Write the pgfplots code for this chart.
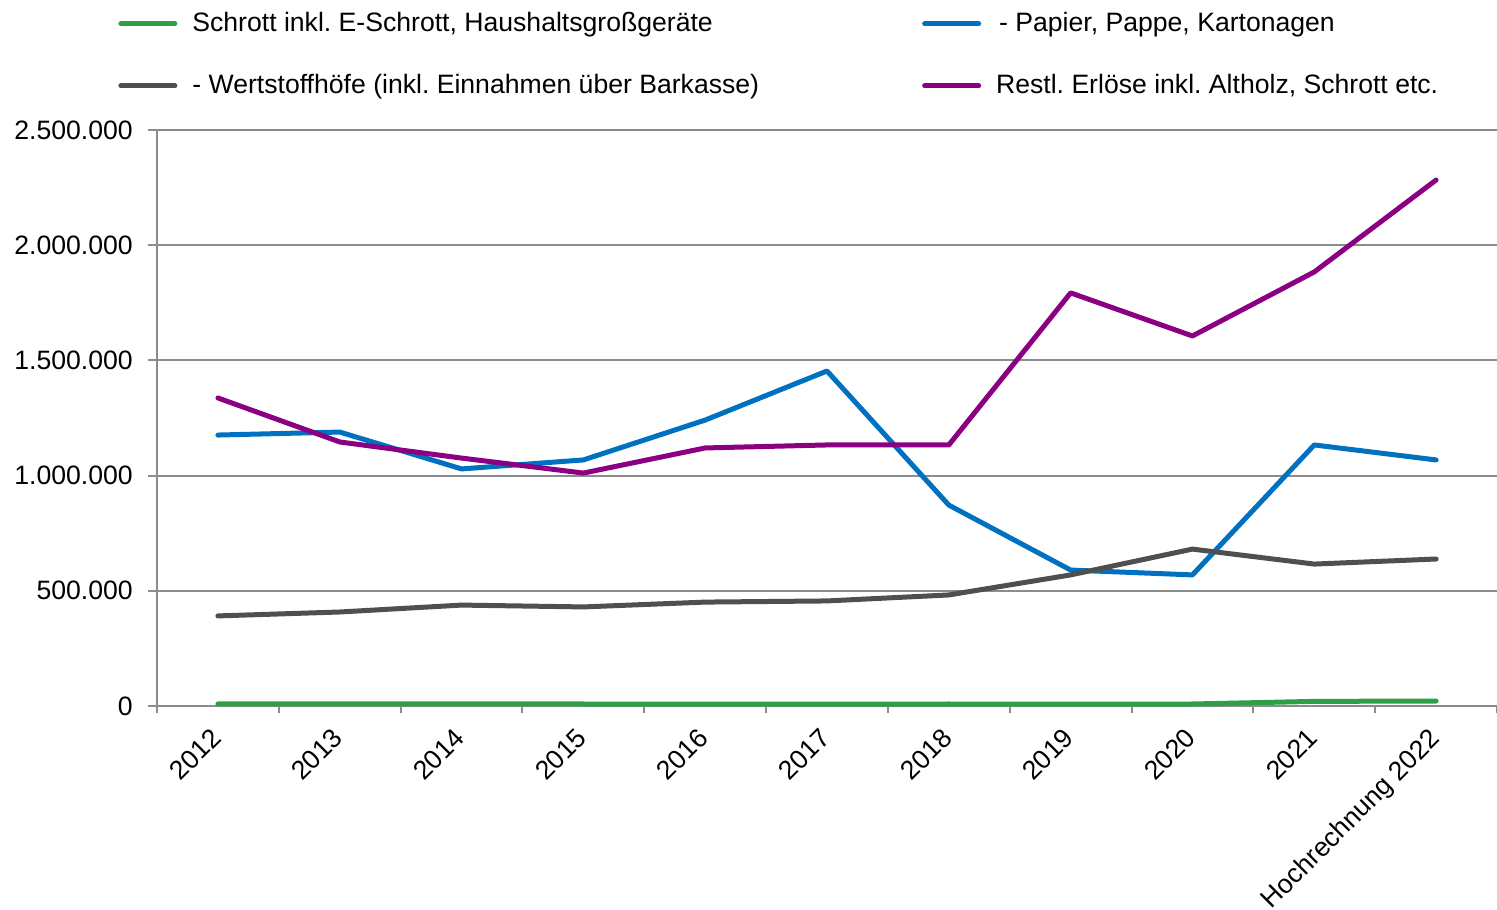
\documentclass[border=0pt]{standalone}
\usepackage{fontspec}
\setmainfont{Liberation Sans}
\usepackage{pgfplots}
\pgfplotsset{compat=1.18}
\definecolor{cgreen}{HTML}{2CA044}
\definecolor{cblue}{HTML}{0070C0}
\definecolor{cgray}{HTML}{4F4F4F}
\definecolor{cpurple}{HTML}{8B0082}
\definecolor{axgray}{HTML}{8C8C8C}
\begin{document}
\frenchspacing
\fontsize{13.3}{15.5}\selectfont
\begin{tikzpicture}
\begin{axis}[
  scale only axis,
  width=670pt, height=288pt,
  at={(0,0)}, anchor=south west,
  xmin=-0.5, xmax=10.5,
  ymin=0, ymax=2500000,
  axis lines*=left,
  axis line style={axgray, line width=1pt},
  xtick={0,...,10},
  xticklabels={2012,2013,2014,2015,2016,2017,2018,2019,2020,2021,Hochrechnung 2022},
  minor xtick={-0.5,0.5,...,10.5},
  major x tick style={draw=none},
  minor x tick style={axgray, line width=1pt},
  minor tick length=3.5pt,
  ytick={0,500000,1000000,1500000,2000000,2500000},
  major y tick style={axgray, line width=1pt},
  major tick length=4.5pt,
  tick align=outside,
  ymajorgrids,
  major grid style={axgray, line width=1pt},
  scaled y ticks=false,
  yticklabel style={/pgf/number format/fixed, /pgf/number format/1000 sep={.}, /pgf/number format/assume math mode=true, xshift=-3pt},
  xticklabel style={rotate=45, anchor=north east, xshift=-2.5pt, yshift=3.5pt},
  tick label style={font=\fontsize{13.3}{15.5}\selectfont, text=black},
  legend columns=2,
  legend cell align=left,
  legend style={draw=none, fill=none, inner sep=0pt,
    at={(axis description cs:0,1)}, anchor=south west,
    xshift=-19.5pt, yshift=14pt,
    font=\fontsize{13.3}{15.5}\selectfont,
    /tikz/every odd column/.append style={column sep=5.5pt},
    /tikz/every even column/.append style={column sep=79.5pt},
    row sep=15.5pt},
  legend image code/.code={\draw[#1, line width=2.5pt, line cap=round] (0pt,0pt) -- (27pt,0pt);},
  every axis plot/.append style={line width=2.5pt, line cap=round, line join=round},
]
\addplot[cgreen] coordinates {(0,8700) (1,8700) (2,8700) (3,8700) (4,8000) (5,8000) (6,8700) (7,8000) (8,8700) (9,20000) (10,21700)};
\addlegendentry{Schrott inkl. E-Schrott, Haushaltsgroßgeräte}
\addplot[cblue] coordinates {(0,1176000) (1,1189000) (2,1029000) (3,1068000) (4,1241000) (5,1454000) (6,872000) (7,590000) (8,569000) (9,1133000) (10,1068000)};
\addlegendentry{\hspace{1.5pt}- Papier, Pappe, Kartonagen}
\addplot[cgray] coordinates {(0,391000) (1,408000) (2,438000) (3,430000) (4,451000) (5,456000) (6,482000) (7,569000) (8,681000) (9,616000) (10,638000)};
\addlegendentry{- Wertstoffhöfe (inkl. Einnahmen über Barkasse)}
\addplot[cpurple] coordinates {(0,1337000) (1,1146000) (2,1076000) (3,1011000) (4,1120000) (5,1133000) (6,1133000) (7,1793000) (8,1606000) (9,1884000) (10,2283000)};
\addlegendentry{Restl. Erlöse inkl. Altholz, Schrott etc.}
\end{axis}
\pgfresetboundingbox
\useasboundingbox (-78.5pt,-101.5pt) rectangle (670pt,353pt);
\end{tikzpicture}
\end{document}
